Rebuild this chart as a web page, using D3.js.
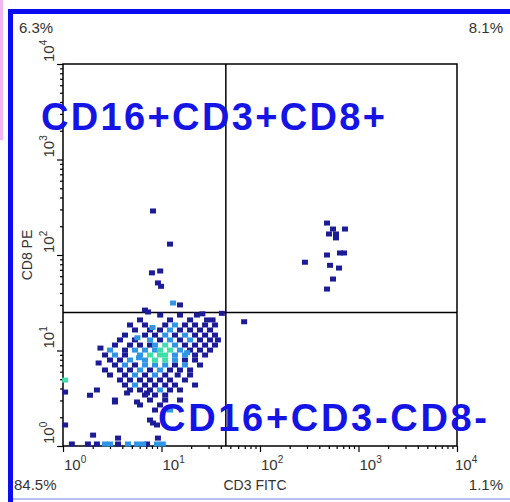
<!DOCTYPE html>
<html>
<head>
<meta charset="utf-8">
<script src="https://cdn.jsdelivr.net/npm/d3@7"></script>
<style>
  body { margin: 0; background: #fff; }
  text { font-family: "Liberation Sans", Arial, sans-serif; }
</style>
</head>
<body>
<div id="chart"></div>
<script>
// decade exponents for the log axes
const tickExp = [0, 1, 2, 3, 4];
const quadPct = ["6.3%", "8.1%", "84.5%", "1.1%"];
const gateX = 45, gateY = 25;
const popLabels = ["CD16+CD3+CD8+", "CD16+CD3-CD8-"];

// events: [CD3 FITC, CD8 PE]
// sparse events (dark blue)
const darkPts = [
  [8.2, 289], [12.2, 130], [8.0, 65], [9.7, 68], [9.2, 51], [9.9, 47], [15.4, 30], [6.8, 26.5], [7.3, 25.3],
  [479, 216], [551, 187], [729, 187], [502, 166], [591, 166], [591, 151], [649, 105], [713, 105],
  [479, 100], [286, 84], [514, 78], [634, 73], [551, 56], [479, 44],
  [69, 20], [41, 24.5],
  [9.7, 23.5], [15.4, 23.5], [22.9, 23.5], [26, 24.2],
  [6.05, 20.9], [12.2, 20.9], [19.5, 20.9], [29, 20.9], [33, 20.9],
  [4.79, 18.5], [6.8, 18.5], [10.9, 18.5], [17.3, 18.5], [21.9, 18.5], [27.7, 18.5], [34.9, 18.5],
  [5.38, 16.4], [7.64, 16.4], [9.66, 16.4], [15.4, 16.4], [19.5, 16.4], [24.6, 16.4], [31.1, 16.4],
  [4.26, 14.5], [6.8, 14.5], [8.59, 14.5], [13.7, 14.5], [21.9, 14.5], [27.7, 14.5], [34.9, 14.5],
  [3.79, 12.9], [5.38, 12.9], [9.66, 12.9], [15.4, 12.9], [24.6, 12.9], [31.1, 12.9], [37.4, 12.9],
  [3.37, 11.4], [4.79, 11.4], [6.05, 11.4], [7.64, 11.4], [17.3, 11.4], [21.9, 11.4], [27.7, 11.4], [34.9, 11.4],
  [4.26, 10.1], [19.5, 10.1], [24.6, 10.1], [31.1, 10.1], [2.4, 10.6],
  [2.67, 8.97], [4.26, 8.97], [21.9, 8.97], [27.7, 8.97],
  [3.0, 7.95], [3.79, 7.95], [17.3, 7.95], [21.9, 7.95], [2.3, 7.4],
  [3.37, 7.05], [5.38, 7.05], [13.7, 7.05], [24.6, 7.05],
  [2.67, 6.25], [3.79, 6.25], [4.79, 6.25], [7.64, 6.25], [12.2, 6.25], [15.4, 6.25], [19.5, 6.25],
  [3.0, 5.54], [4.26, 5.54], [6.8, 5.54], [10.9, 5.54], [14.6, 5.54], [19.5, 5.54],
  [3.79, 4.91], [4.79, 4.91], [6.05, 4.91], [7.64, 4.91], [9.66, 4.91], [12.2, 4.91], [17.3, 4.91],
  [4.26, 4.35], [6.8, 4.35], [8.59, 4.35], [10.9, 4.35], [13.7, 4.35], [21.9, 4.35],
  [4.79, 3.86], [6.05, 3.86], [7.64, 3.86], [12.2, 3.86], [15.4, 3.86],
  [6.8, 3.42], [8.59, 3.42], [10.9, 3.42],
  [3.37, 3.03], [7.64, 3.03], [10.9, 3.03], [15.4, 3.03],
  [6.05, 2.69], [9.66, 2.69], [8.59, 2.38], [7.64, 1.87], [9.0, 1.66],
  [1.05, 3.67], [1.88, 3.4], [2.21, 3.86], [3.37, 2.89], [4.47, 3.59], [5.64, 2.89], [7.13, 3.59],
  [8.2, 1.74], [1.05, 1.66], [2.02, 1.3], [3.62, 1.21], [9.2, 1.21],
  [1.23, 1.05], [1.79, 1.05], [2.21, 1.05], [3.62, 1.05], [7.13, 1.05]
];
// medium density events (light blue)
const midPts = [
  [13.1, 31.4], [13.7, 18.5], [12.2, 16.4], [10.9, 14.5], [17.3, 14.5], [8.1, 17.4],
  [7.64, 12.9], [12.2, 12.9], [19.5, 12.9], [8.59, 11.4], [13.7, 11.4], [5.7, 13.6],
  [3.0, 10.1], [5.38, 10.1], [6.8, 10.1], [8.59, 10.1], [15.4, 10.1], [18.2, 9.5],
  [3.37, 8.97], [6.05, 8.97], [13.7, 8.97], [17.3, 8.97],
  [4.79, 7.95], [6.8, 7.95], [13.7, 7.95], [5.9, 8.4],
  [4.26, 7.05], [6.8, 7.05], [8.59, 7.05], [10.9, 7.05], [17.3, 7.05],
  [6.05, 6.25], [9.66, 6.25], [5.38, 5.54], [8.59, 5.54], [5.38, 4.35], [9.66, 3.86], [12.2, 2.38],
  [2.67, 1.05], [3.0, 1.05], [4.57, 1.05], [5.64, 1.05], [6.5, 1.05], [9.0, 1.05], [10.3, 1.05]
];
// dense core events (green)
const corePts = [
  [10.9, 11.4], [9.66, 10.1], [12.2, 10.1], [7.64, 8.97], [9.66, 8.97], [10.9, 8.97],
  [8.59, 7.95], [10.9, 7.95], [1.05, 4.9]
];

const width = 510, height = 502;
const svg = d3.select("#chart").append("svg")
  .attr("width", width).attr("height", height);

// page frame
svg.append("rect").attr("x", 0).attr("y", 0).attr("width", 3).attr("height", 140).attr("fill", "#f4b4f4");
svg.append("rect").attr("x", 8).attr("y", 9).attr("width", 502).attr("height", 5).attr("fill", "#0c0cf0");
svg.append("rect").attr("x", 8).attr("y", 9).attr("width", 5).attr("height", 493).attr("fill", "#0c0cf0");
svg.append("rect").attr("x", 13).attr("y", 498).attr("width", 497).attr("height", 2).attr("fill", "#b8c0f2");

let x = d3.scaleLog().domain([1, 1e4]).range([63, 457]);
let y = d3.scaleLog().domain([1, 1e4]).range([446, 64]);

// all log tick positions, major = decades
let tickVals = [];
tickExp.forEach(function(e) {
  for (let m = 1; m < 10; m++) {
    if (e === 4 && m > 1) break;
    tickVals.push(m * Math.pow(10, e));
  }
});
function isMajor(v) { return Math.abs(Math.log10(v) - Math.round(Math.log10(v))) < 1e-9; }

let xAxis = svg.append("g")
  .attr("transform", "translate(0,446)")
  .call(d3.axisBottom(x).tickValues(tickVals).tickFormat("").tickSizeOuter(0));
xAxis.select(".domain").remove();
xAxis.selectAll(".tick line").attr("y2", function(d) { return isMajor(d) ? 6 : 3; }).attr("stroke-width", 1.2);

let yAxis = svg.append("g")
  .attr("transform", "translate(63,0)")
  .call(d3.axisLeft(y).tickValues(tickVals).tickFormat("").tickSizeOuter(0));
yAxis.select(".domain").remove();
yAxis.selectAll(".tick line").attr("x2", function(d) { return isMajor(d) ? -6 : -3; }).attr("stroke-width", 1.2);

// plot box and quadrant gate
svg.append("rect")
  .attr("x", x(1)).attr("y", y(1e4))
  .attr("width", x(1e4) - x(1)).attr("height", y(1) - y(1e4))
  .attr("fill", "none").attr("stroke", "#000").attr("stroke-width", 1.5);
svg.append("line").attr("x1", x(gateX)).attr("x2", x(gateX)).attr("y1", y(1e4)).attr("y2", y(1))
  .attr("stroke", "#000").attr("stroke-width", 1.5);
svg.append("line").attr("x1", x(1)).attr("x2", x(1e4)).attr("y1", y(gateY)).attr("y2", y(gateY))
  .attr("stroke", "#000").attr("stroke-width", 1.5);

// events
function drawPts(data, color) {
  svg.append("g").selectAll("rect")
    .data(data)
    .enter().append("rect")
    .attr("x", function(d) { return x(d[0]) - 3; })
    .attr("y", function(d) { return y(d[1]) - 2.5; })
    .attr("width", 6).attr("height", 5)
    .attr("fill", color);
}
drawPts(darkPts, "#1c1c98");
drawPts(midPts, "#2f96e6");
drawPts(corePts, "#3fe0a8");

// decade labels
let xl = svg.append("g").selectAll("text").data(tickExp).enter().append("text")
  .attr("x", function(e) { return x(Math.pow(10, e)) + (e === 4 ? -2 : 1); })
  .attr("y", 470)
  .attr("font-size", 15).attr("fill", "#333");
xl.append("tspan").text("10");
xl.append("tspan").attr("dy", -7).attr("font-size", 10).text(function(e) { return e; });

let yl = svg.append("g").selectAll("text").data(tickExp).enter().append("text")
  .attr("transform", function(e) { return "translate(54," + (y(Math.pow(10, e)) - 2) + ") rotate(-90)"; })
  .attr("font-size", 15).attr("fill", "#333");
yl.append("tspan").text("10");
yl.append("tspan").attr("dy", -7).attr("font-size", 10).text(function(e) { return e; });

// axis titles
svg.append("text").attr("x", 255).attr("y", 490).attr("text-anchor", "middle")
  .attr("font-size", 14).attr("fill", "#333").text("CD3 FITC");
svg.append("text").attr("transform", "translate(32,255) rotate(-90)").attr("text-anchor", "middle")
  .attr("font-size", 14).attr("fill", "#333").text("CD8 PE");

// quadrant percentages
svg.append("text").attr("x", 19).attr("y", 33).attr("font-size", 15).attr("fill", "#333").text(quadPct[0]);
svg.append("text").attr("x", 503).attr("y", 33).attr("text-anchor", "end").attr("font-size", 15).attr("fill", "#333").text(quadPct[1]);
svg.append("text").attr("x", 14).attr("y", 490).attr("font-size", 15).attr("fill", "#333").text(quadPct[2]);
svg.append("text").attr("x", 503).attr("y", 490).attr("text-anchor", "end").attr("font-size", 15).attr("fill", "#333").text(quadPct[3]);

// population labels
svg.append("text").attr("x", 41).attr("y", 130)
  .attr("font-size", 38).attr("font-weight", "bold").attr("fill", "#1414e6")
  .attr("textLength", 344).attr("lengthAdjust", "spacing").text(popLabels[0]);
svg.append("text").attr("x", 158).attr("y", 431)
  .attr("font-size", 38).attr("font-weight", "bold").attr("fill", "#1414e6")
  .attr("textLength", 329).attr("lengthAdjust", "spacing").text(popLabels[1]);
</script>
</body>
</html>
